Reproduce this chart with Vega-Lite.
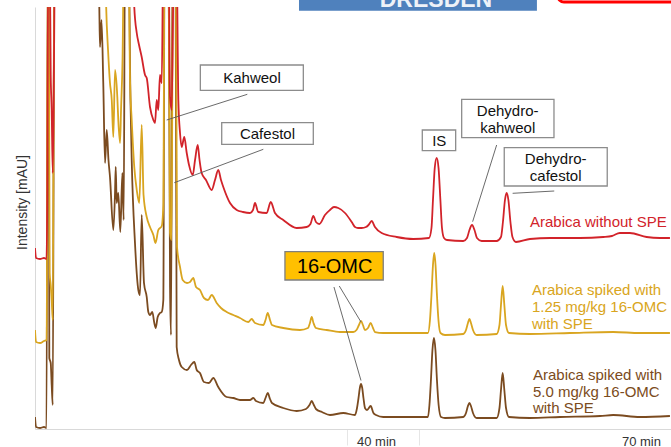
{
  "$schema": "https://vega.github.io/schema/vega-lite/v6.json",
  "width": 636,
  "height": 422,
  "autosize": {"type": "none"},
  "padding": {"left": 35, "top": 7, "right": 0, "bottom": 18},
  "background": "white",
  "config": {"view": {"stroke": null}, "font": "Liberation Sans"},
  "datasets": {
    "traces": [
      {"s":"5.0 mg/kg","t":1.39,"v":12},{"s":"5.0 mg/kg","t":1.51,"v":2},{"s":"5.0 mg/kg","t":1.96,"v":1},{"s":"5.0 mg/kg","t":2.41,"v":2},{"s":"5.0 mg/kg","t":2.69,"v":1},{"s":"5.0 mg/kg","t":2.84,"v":480},{"s":"5.0 mg/kg","t":2.93,"v":480},{"s":"5.0 mg/kg","t":3.01,"v":71},{"s":"5.0 mg/kg","t":3.17,"v":66},{"s":"5.0 mg/kg","t":3.28,"v":44},{"s":"5.0 mg/kg","t":3.40,"v":24},{"s":"5.0 mg/kg","t":3.58,"v":480},
      {"s":"5.0 mg/kg","t":8.52,"v":480},{"s":"5.0 mg/kg","t":8.67,"v":422},{"s":"5.0 mg/kg","t":8.75,"v":382},{"s":"5.0 mg/kg","t":8.92,"v":409},{"s":"5.0 mg/kg","t":9.12,"v":346},{"s":"5.0 mg/kg","t":9.32,"v":266},{"s":"5.0 mg/kg","t":9.51,"v":299},{"s":"5.0 mg/kg","t":9.71,"v":269},{"s":"5.0 mg/kg","t":9.88,"v":252},{"s":"5.0 mg/kg","t":10.26,"v":199},{"s":"5.0 mg/kg","t":10.45,"v":236},{"s":"5.0 mg/kg","t":10.53,"v":262},{"s":"5.0 mg/kg","t":10.64,"v":226},{"s":"5.0 mg/kg","t":10.82,"v":236},{"s":"5.0 mg/kg","t":11.05,"v":197},{"s":"5.0 mg/kg","t":11.28,"v":256},{"s":"5.0 mg/kg","t":11.43,"v":209},{"s":"5.0 mg/kg","t":11.58,"v":480},
      {"s":"5.0 mg/kg","t":11.98,"v":480},{"s":"5.0 mg/kg","t":12.20,"v":329},{"s":"5.0 mg/kg","t":12.34,"v":269},{"s":"5.0 mg/kg","t":12.71,"v":186},{"s":"5.0 mg/kg","t":13.09,"v":139},{"s":"5.0 mg/kg","t":13.28,"v":134},{"s":"5.0 mg/kg","t":13.47,"v":214},{"s":"5.0 mg/kg","t":13.73,"v":146},{"s":"5.0 mg/kg","t":14.04,"v":132},{"s":"5.0 mg/kg","t":14.22,"v":117},{"s":"5.0 mg/kg","t":14.41,"v":114},{"s":"5.0 mg/kg","t":14.67,"v":117},{"s":"5.0 mg/kg","t":14.90,"v":106},{"s":"5.0 mg/kg","t":15.06,"v":101},{"s":"5.0 mg/kg","t":15.28,"v":112},{"s":"5.0 mg/kg","t":15.54,"v":116},{"s":"5.0 mg/kg","t":15.74,"v":117},{"s":"5.0 mg/kg","t":15.92,"v":129},{"s":"5.0 mg/kg","t":16.06,"v":480},
      {"s":"5.0 mg/kg","t":16.51,"v":480},{"s":"5.0 mg/kg","t":16.68,"v":142},{"s":"5.0 mg/kg","t":16.79,"v":94},{"s":"5.0 mg/kg","t":16.96,"v":480},{"s":"5.0 mg/kg","t":17.30,"v":480},{"s":"5.0 mg/kg","t":17.43,"v":82},{"s":"5.0 mg/kg","t":17.69,"v":69},{"s":"5.0 mg/kg","t":18.00,"v":62},{"s":"5.0 mg/kg","t":18.60,"v":59},{"s":"5.0 mg/kg","t":19.05,"v":64},{"s":"5.0 mg/kg","t":19.43,"v":67},{"s":"5.0 mg/kg","t":19.70,"v":59},{"s":"5.0 mg/kg","t":20.07,"v":56},{"s":"5.0 mg/kg","t":20.52,"v":47},{"s":"5.0 mg/kg","t":21.09,"v":46},{"s":"5.0 mg/kg","t":21.58,"v":51},{"s":"5.0 mg/kg","t":22.14,"v":42},{"s":"5.0 mg/kg","t":23.09,"v":32},{"s":"5.0 mg/kg","t":23.84,"v":31},{"s":"5.0 mg/kg","t":24.60,"v":29},{"s":"5.0 mg/kg","t":25.73,"v":29},{"s":"5.0 mg/kg","t":26.11,"v":31},{"s":"5.0 mg/kg","t":26.41,"v":28},{"s":"5.0 mg/kg","t":27.24,"v":26},{"s":"5.0 mg/kg","t":27.49,"v":31},{"s":"5.0 mg/kg","t":27.74,"v":36},{"s":"5.0 mg/kg","t":28.00,"v":30},{"s":"5.0 mg/kg","t":28.22,"v":26},{"s":"5.0 mg/kg","t":29.50,"v":21},{"s":"5.0 mg/kg","t":31.02,"v":18},{"s":"5.0 mg/kg","t":32.07,"v":20},{"s":"5.0 mg/kg","t":32.47,"v":24},{"s":"5.0 mg/kg","t":32.72,"v":28},{"s":"5.0 mg/kg","t":32.96,"v":24},{"s":"5.0 mg/kg","t":33.20,"v":20},{"s":"5.0 mg/kg","t":33.88,"v":17},{"s":"5.0 mg/kg","t":34.79,"v":14},{"s":"5.0 mg/kg","t":36.30,"v":16},{"s":"5.0 mg/kg","t":37.62,"v":14},{"s":"5.0 mg/kg","t":37.85,"v":21},{"s":"5.0 mg/kg","t":38.02,"v":31},{"s":"5.0 mg/kg","t":38.19,"v":42},{"s":"5.0 mg/kg","t":38.30,"v":45},{"s":"5.0 mg/kg","t":38.44,"v":41},{"s":"5.0 mg/kg","t":38.58,"v":31},{"s":"5.0 mg/kg","t":38.75,"v":21},{"s":"5.0 mg/kg","t":38.98,"v":19},{"s":"5.0 mg/kg","t":39.40,"v":23},{"s":"5.0 mg/kg","t":39.71,"v":16},{"s":"5.0 mg/kg","t":40.00,"v":14},{"s":"5.0 mg/kg","t":40.82,"v":12},{"s":"5.0 mg/kg","t":44.22,"v":12},{"s":"5.0 mg/kg","t":45.88,"v":12},{"s":"5.0 mg/kg","t":46.05,"v":24},{"s":"5.0 mg/kg","t":46.22,"v":49},{"s":"5.0 mg/kg","t":46.39,"v":79},{"s":"5.0 mg/kg","t":46.56,"v":91},{"s":"5.0 mg/kg","t":46.73,"v":79},{"s":"5.0 mg/kg","t":46.90,"v":49},{"s":"5.0 mg/kg","t":47.09,"v":24},{"s":"5.0 mg/kg","t":47.36,"v":12},{"s":"5.0 mg/kg","t":47.81,"v":11},{"s":"5.0 mg/kg","t":49.88,"v":12},{"s":"5.0 mg/kg","t":50.19,"v":16},{"s":"5.0 mg/kg","t":50.41,"v":23},{"s":"5.0 mg/kg","t":50.58,"v":26},{"s":"5.0 mg/kg","t":50.75,"v":23},{"s":"5.0 mg/kg","t":50.98,"v":16},{"s":"5.0 mg/kg","t":51.40,"v":11},{"s":"5.0 mg/kg","t":53.66,"v":11},{"s":"5.0 mg/kg","t":53.98,"v":21},{"s":"5.0 mg/kg","t":54.15,"v":39},{"s":"5.0 mg/kg","t":54.34,"v":56},{"s":"5.0 mg/kg","t":54.53,"v":39},{"s":"5.0 mg/kg","t":54.72,"v":21},{"s":"5.0 mg/kg","t":55.05,"v":12},{"s":"5.0 mg/kg","t":57.43,"v":11},{"s":"5.0 mg/kg","t":60.83,"v":12},{"s":"5.0 mg/kg","t":65.36,"v":13},{"s":"5.0 mg/kg","t":66.86,"v":14},{"s":"5.0 mg/kg","t":69.88,"v":12},{"s":"5.0 mg/kg","t":73.28,"v":13},

      {"s":"1.25 mg/kg","t":1.39,"v":99},{"s":"1.25 mg/kg","t":1.51,"v":87},{"s":"1.25 mg/kg","t":1.96,"v":86},{"s":"1.25 mg/kg","t":2.41,"v":88},{"s":"1.25 mg/kg","t":2.71,"v":89},{"s":"1.25 mg/kg","t":2.84,"v":480},{"s":"1.25 mg/kg","t":2.94,"v":480},{"s":"1.25 mg/kg","t":3.05,"v":156},{"s":"1.25 mg/kg","t":3.17,"v":144},{"s":"1.25 mg/kg","t":3.28,"v":129},{"s":"1.25 mg/kg","t":3.40,"v":109},{"s":"1.25 mg/kg","t":3.58,"v":480},
      {"s":"1.25 mg/kg","t":9.32,"v":480},{"s":"1.25 mg/kg","t":9.45,"v":422},{"s":"1.25 mg/kg","t":9.66,"v":379},{"s":"1.25 mg/kg","t":9.88,"v":346},{"s":"1.25 mg/kg","t":10.08,"v":329},{"s":"1.25 mg/kg","t":10.26,"v":292},{"s":"1.25 mg/kg","t":10.45,"v":359},{"s":"1.25 mg/kg","t":10.71,"v":332},{"s":"1.25 mg/kg","t":10.82,"v":309},{"s":"1.25 mg/kg","t":11.02,"v":286},{"s":"1.25 mg/kg","t":11.13,"v":319},{"s":"1.25 mg/kg","t":11.30,"v":369},{"s":"1.25 mg/kg","t":11.47,"v":480},
      {"s":"1.25 mg/kg","t":11.98,"v":480},{"s":"1.25 mg/kg","t":12.15,"v":349},{"s":"1.25 mg/kg","t":12.34,"v":309},{"s":"1.25 mg/kg","t":12.63,"v":262},{"s":"1.25 mg/kg","t":12.91,"v":239},{"s":"1.25 mg/kg","t":13.20,"v":226},{"s":"1.25 mg/kg","t":13.47,"v":304},{"s":"1.25 mg/kg","t":13.68,"v":234},{"s":"1.25 mg/kg","t":14.04,"v":212},{"s":"1.25 mg/kg","t":14.41,"v":202},{"s":"1.25 mg/kg","t":14.79,"v":194},{"s":"1.25 mg/kg","t":15.03,"v":186},{"s":"1.25 mg/kg","t":15.35,"v":199},{"s":"1.25 mg/kg","t":15.74,"v":203},{"s":"1.25 mg/kg","t":15.92,"v":224},{"s":"1.25 mg/kg","t":16.06,"v":480},
      {"s":"1.25 mg/kg","t":16.51,"v":480},{"s":"1.25 mg/kg","t":16.68,"v":196},{"s":"1.25 mg/kg","t":16.85,"v":189},{"s":"1.25 mg/kg","t":17.02,"v":480},{"s":"1.25 mg/kg","t":17.33,"v":480},{"s":"1.25 mg/kg","t":17.47,"v":182},{"s":"1.25 mg/kg","t":17.81,"v":162},{"s":"1.25 mg/kg","t":18.11,"v":149},{"s":"1.25 mg/kg","t":18.60,"v":146},{"s":"1.25 mg/kg","t":18.94,"v":147},{"s":"1.25 mg/kg","t":19.31,"v":151},{"s":"1.25 mg/kg","t":19.62,"v":142},{"s":"1.25 mg/kg","t":20.07,"v":139},{"s":"1.25 mg/kg","t":20.52,"v":131},{"s":"1.25 mg/kg","t":20.98,"v":129},{"s":"1.25 mg/kg","t":21.40,"v":134},{"s":"1.25 mg/kg","t":21.96,"v":126},{"s":"1.25 mg/kg","t":22.45,"v":121},{"s":"1.25 mg/kg","t":23.09,"v":117},{"s":"1.25 mg/kg","t":23.84,"v":114},{"s":"1.25 mg/kg","t":24.60,"v":111},{"s":"1.25 mg/kg","t":25.54,"v":107},{"s":"1.25 mg/kg","t":25.92,"v":110},{"s":"1.25 mg/kg","t":26.30,"v":106},{"s":"1.25 mg/kg","t":27.24,"v":104},{"s":"1.25 mg/kg","t":27.49,"v":109},{"s":"1.25 mg/kg","t":27.74,"v":116},{"s":"1.25 mg/kg","t":28.00,"v":109},{"s":"1.25 mg/kg","t":28.22,"v":104},{"s":"1.25 mg/kg","t":29.50,"v":101},{"s":"1.25 mg/kg","t":31.39,"v":99},{"s":"1.25 mg/kg","t":32.30,"v":101},{"s":"1.25 mg/kg","t":32.52,"v":106},{"s":"1.25 mg/kg","t":32.72,"v":112},{"s":"1.25 mg/kg","t":32.92,"v":106},{"s":"1.25 mg/kg","t":33.20,"v":101},{"s":"1.25 mg/kg","t":34.42,"v":99},{"s":"1.25 mg/kg","t":35.92,"v":97},{"s":"1.25 mg/kg","t":37.43,"v":97},{"s":"1.25 mg/kg","t":37.79,"v":99},{"s":"1.25 mg/kg","t":38.07,"v":104},{"s":"1.25 mg/kg","t":38.30,"v":108},{"s":"1.25 mg/kg","t":38.52,"v":104},{"s":"1.25 mg/kg","t":38.75,"v":99},{"s":"1.25 mg/kg","t":39.09,"v":101},{"s":"1.25 mg/kg","t":39.40,"v":106},{"s":"1.25 mg/kg","t":39.66,"v":101},{"s":"1.25 mg/kg","t":39.88,"v":97},{"s":"1.25 mg/kg","t":40.82,"v":96},{"s":"1.25 mg/kg","t":44.22,"v":96},{"s":"1.25 mg/kg","t":45.88,"v":96},{"s":"1.25 mg/kg","t":46.11,"v":109},{"s":"1.25 mg/kg","t":46.28,"v":134},{"s":"1.25 mg/kg","t":46.45,"v":164},{"s":"1.25 mg/kg","t":46.59,"v":176},{"s":"1.25 mg/kg","t":46.74,"v":164},{"s":"1.25 mg/kg","t":46.90,"v":134},{"s":"1.25 mg/kg","t":47.07,"v":109},{"s":"1.25 mg/kg","t":47.30,"v":96},{"s":"1.25 mg/kg","t":47.81,"v":94},{"s":"1.25 mg/kg","t":49.88,"v":95},{"s":"1.25 mg/kg","t":50.19,"v":99},{"s":"1.25 mg/kg","t":50.41,"v":106},{"s":"1.25 mg/kg","t":50.58,"v":110},{"s":"1.25 mg/kg","t":50.75,"v":106},{"s":"1.25 mg/kg","t":50.98,"v":99},{"s":"1.25 mg/kg","t":51.40,"v":94},{"s":"1.25 mg/kg","t":53.66,"v":95},{"s":"1.25 mg/kg","t":53.98,"v":104},{"s":"1.25 mg/kg","t":54.15,"v":124},{"s":"1.25 mg/kg","t":54.34,"v":143},{"s":"1.25 mg/kg","t":54.53,"v":124},{"s":"1.25 mg/kg","t":54.72,"v":104},{"s":"1.25 mg/kg","t":55.05,"v":96},{"s":"1.25 mg/kg","t":57.43,"v":95},{"s":"1.25 mg/kg","t":61.96,"v":96},{"s":"1.25 mg/kg","t":66.86,"v":97},{"s":"1.25 mg/kg","t":69.88,"v":96},{"s":"1.25 mg/kg","t":73.28,"v":96},

      {"s":"without SPE","t":1.39,"v":181},{"s":"without SPE","t":1.51,"v":171},{"s":"without SPE","t":1.96,"v":170},{"s":"without SPE","t":2.41,"v":171},{"s":"without SPE","t":2.69,"v":170},{"s":"without SPE","t":2.78,"v":229},{"s":"without SPE","t":2.89,"v":480},{"s":"without SPE","t":3.05,"v":480},{"s":"without SPE","t":3.17,"v":354},{"s":"without SPE","t":3.28,"v":319},{"s":"without SPE","t":3.40,"v":256},{"s":"without SPE","t":3.54,"v":369},{"s":"without SPE","t":3.66,"v":480},
      {"s":"without SPE","t":12.49,"v":480},{"s":"without SPE","t":12.63,"v":422},{"s":"without SPE","t":12.91,"v":396},{"s":"without SPE","t":13.17,"v":384},{"s":"without SPE","t":13.47,"v":372},{"s":"without SPE","t":13.85,"v":354},{"s":"without SPE","t":14.04,"v":351},{"s":"without SPE","t":14.41,"v":322},{"s":"without SPE","t":14.79,"v":309},{"s":"without SPE","t":14.98,"v":306},{"s":"without SPE","t":15.17,"v":329},{"s":"without SPE","t":15.35,"v":319},{"s":"without SPE","t":15.54,"v":354},{"s":"without SPE","t":15.74,"v":346},{"s":"without SPE","t":15.92,"v":480},
      {"s":"without SPE","t":16.51,"v":480},{"s":"without SPE","t":16.68,"v":332},{"s":"without SPE","t":16.87,"v":319},{"s":"without SPE","t":17.13,"v":480},{"s":"without SPE","t":17.41,"v":480},{"s":"without SPE","t":17.62,"v":329},{"s":"without SPE","t":17.81,"v":296},{"s":"without SPE","t":18.00,"v":282},{"s":"without SPE","t":18.29,"v":292},{"s":"without SPE","t":18.57,"v":276},{"s":"without SPE","t":18.83,"v":264},{"s":"without SPE","t":19.25,"v":254},{"s":"without SPE","t":19.51,"v":269},{"s":"without SPE","t":19.81,"v":284},{"s":"without SPE","t":20.02,"v":269},{"s":"without SPE","t":20.26,"v":256},{"s":"without SPE","t":20.75,"v":249},{"s":"without SPE","t":21.40,"v":239},{"s":"without SPE","t":21.77,"v":249},{"s":"without SPE","t":22.14,"v":259},{"s":"without SPE","t":22.45,"v":249},{"s":"without SPE","t":22.71,"v":242},{"s":"without SPE","t":23.47,"v":226},{"s":"without SPE","t":24.23,"v":219},{"s":"without SPE","t":24.94,"v":217},{"s":"without SPE","t":25.73,"v":216},{"s":"without SPE","t":26.07,"v":219},{"s":"without SPE","t":26.30,"v":226},{"s":"without SPE","t":26.67,"v":217},{"s":"without SPE","t":27.62,"v":216},{"s":"without SPE","t":28.08,"v":227},{"s":"without SPE","t":28.56,"v":216},{"s":"without SPE","t":29.50,"v":209},{"s":"without SPE","t":31.02,"v":201},{"s":"without SPE","t":32.15,"v":202},{"s":"without SPE","t":32.58,"v":205},{"s":"without SPE","t":32.90,"v":213},{"s":"without SPE","t":33.20,"v":207},{"s":"without SPE","t":33.58,"v":205},{"s":"without SPE","t":34.22,"v":214},{"s":"without SPE","t":34.79,"v":219},{"s":"without SPE","t":35.24,"v":222},{"s":"without SPE","t":35.73,"v":221},{"s":"without SPE","t":36.49,"v":216},{"s":"without SPE","t":37.25,"v":207},{"s":"without SPE","t":37.62,"v":202},{"s":"without SPE","t":37.96,"v":201},{"s":"without SPE","t":38.38,"v":201},{"s":"without SPE","t":38.87,"v":202},{"s":"without SPE","t":39.15,"v":204},{"s":"without SPE","t":39.51,"v":208},{"s":"without SPE","t":39.88,"v":202},{"s":"without SPE","t":40.64,"v":196},{"s":"without SPE","t":42.34,"v":192},{"s":"without SPE","t":44.22,"v":190},{"s":"without SPE","t":46.00,"v":191},{"s":"without SPE","t":46.28,"v":201},{"s":"without SPE","t":46.45,"v":229},{"s":"without SPE","t":46.65,"v":261},{"s":"without SPE","t":46.87,"v":271},{"s":"without SPE","t":47.08,"v":261},{"s":"without SPE","t":47.29,"v":229},{"s":"without SPE","t":47.47,"v":201},{"s":"without SPE","t":47.70,"v":191},{"s":"without SPE","t":48.04,"v":189},{"s":"without SPE","t":49.88,"v":188},{"s":"without SPE","t":50.30,"v":191},{"s":"without SPE","t":50.58,"v":199},{"s":"without SPE","t":50.87,"v":204},{"s":"without SPE","t":51.15,"v":199},{"s":"without SPE","t":51.43,"v":191},{"s":"without SPE","t":51.96,"v":188},{"s":"without SPE","t":53.66,"v":188},{"s":"without SPE","t":54.15,"v":192},{"s":"without SPE","t":54.37,"v":207},{"s":"without SPE","t":54.60,"v":229},{"s":"without SPE","t":54.79,"v":236},{"s":"without SPE","t":54.99,"v":229},{"s":"without SPE","t":55.22,"v":207},{"s":"without SPE","t":55.45,"v":192},{"s":"without SPE","t":55.85,"v":187},{"s":"without SPE","t":57.43,"v":190},{"s":"without SPE","t":59.70,"v":191},{"s":"without SPE","t":63.09,"v":191},{"s":"without SPE","t":65.73,"v":192},{"s":"without SPE","t":66.71,"v":193},{"s":"without SPE","t":67.61,"v":196},{"s":"without SPE","t":68.75,"v":196},{"s":"without SPE","t":70.64,"v":192},{"s":"without SPE","t":72.15,"v":191},{"s":"without SPE","t":73.28,"v":191}
    ],
    "seriesLabels": [
      {"s":"without SPE","t":57.43,"v":202.3,"line":"Arabica without SPE"},
      {"s":"1.25 mg/kg","t":57.66,"v":134,"line":"Arabica spiked with"},
      {"s":"1.25 mg/kg","t":57.66,"v":117,"line":"1.25 mg/kg 16-OMC"},
      {"s":"1.25 mg/kg","t":57.66,"v":100,"line":"with SPE"},
      {"s":"5.0 mg/kg","t":57.77,"v":49,"line":"Arabica spiked with"},
      {"s":"5.0 mg/kg","t":57.77,"v":32,"line":"5.0 mg/kg 16-OMC"},
      {"s":"5.0 mg/kg","t":57.77,"v":16,"line":"with SPE"}
    ],
    "boxes": [
      {"name":"Kahweol","t":20.11,"t2":31.77,"v":338.7,"v2":364},
      {"name":"Cafestol","t":22.53,"t2":32.90,"v":284.7,"v2":306.3},
      {"name":"IS","t":45.24,"t2":49.02,"v":278.3,"v2":299},
      {"name":"Dehydrokahweol","t":49.70,"t2":60.15,"v":291.3,"v2":329.7},
      {"name":"Dehydrocafestol","t":54.52,"t2":66.18,"v":243,"v2":281.3}
    ],
    "boxText": [
      {"label":"Kahweol","t":25.96,"v":345.7},
      {"label":"Cafestol","t":27.71,"v":289.7},
      {"label":"IS","t":47.16,"v":283},
      {"label":"Dehydro-","t":54.91,"v":313},
      {"label":"kahweol","t":54.91,"v":296.3},
      {"label":"Dehydro-","t":60.34,"v":264.7},
      {"label":"cafestol","t":60.34,"v":248.3}
    ],
    "leaders": [
      {"name":"Kahweol","t":25.43,"v":334.7,"t2":16.30,"v2":309},
      {"name":"Cafestol","t":27.24,"v":279.7,"t2":17.16,"v2":246.3},
      {"name":"Dehydrokahweol","t":53.66,"v":284,"t2":50.94,"v2":207.3},
      {"name":"Dehydrocafestol","t":55.47,"v":235.7,"t2":60.18,"v2":238},
      {"name":"16-OMC 1.25","t":35.84,"v":143,"t2":38.30,"v2":107},
      {"name":"16-OMC 5.0","t":35.24,"v":142,"t2":38.30,"v2":48.5}
    ]
  },
  "layer": [
    {
      "data": {"name": "traces"},
      "mark": {"type": "line", "clip": true, "strokeWidth": 1.8, "interpolate": "monotone"},
      "encoding": {
        "x": {"field": "t", "type": "quantitative", "scale": {"domain": [1.39, 73.4], "nice": false, "zero": false},
          "axis": {"values": [36.71, 40, 44.87, 70], "title": null, "grid": false,
            "labelExpr": "datum.value == 40 || datum.value == 70 ? datum.value + ' min' : ''",
            "tickColor": {"condition": {"test": "datum.value == 40 || datum.value == 70", "value": "transparent"}, "value": "#e6e6e6"},
            "tickSize": 16, "labelPadding": -10, "labelFlush": false, "labelOverlap": false,
            "domainColor": "#d9d9d9", "labelFontSize": 13, "labelColor": "#333333", "labelFont": "Liberation Sans"}},
        "y": {"field": "v", "type": "quantitative", "scale": {"domain": [0, 422], "nice": false, "zero": false},
          "axis": {"ticks": false, "labels": false, "grid": false, "domainColor": "#d9d9d9",
            "title": "Intensity [mAU]", "titleFontSize": 14, "titleFont": "Liberation Sans", "titleFontWeight": "normal",
            "titleColor": "#333333", "titleX": -13, "titleY": 195, "titleAngle": -90, "titleBaseline": "middle", "titleAlign": "center"}},
        "color": {"field": "s", "type": "nominal", "legend": null,
          "scale": {"domain": ["5.0 mg/kg", "1.25 mg/kg", "without SPE"], "range": ["#7b4b20", "#d9a520", "#d2232a"]}},
        "order": {"field": "t", "type": "quantitative"}
      }
    },
    {
      "data": {"name": "seriesLabels"},
      "mark": {"type": "text", "align": "left", "baseline": "alphabetic", "fontSize": 15, "font": "Liberation Sans"},
      "encoding": {
        "x": {"field": "t", "type": "quantitative"},
        "y": {"field": "v", "type": "quantitative"},
        "text": {"field": "line"},
        "color": {"field": "s", "type": "nominal", "legend": null}
      }
    },
    {
      "data": {"name": "leaders"},
      "mark": {"type": "rule", "color": "#595959", "strokeWidth": 0.9},
      "encoding": {
        "x": {"field": "t", "type": "quantitative"},
        "y": {"field": "v", "type": "quantitative"},
        "x2": {"field": "t2"},
        "y2": {"field": "v2"}
      }
    },
    {
      "data": {"name": "boxes"},
      "mark": {"type": "rect", "fill": "white", "stroke": "#8c8c8c", "strokeWidth": 1.3},
      "encoding": {
        "x": {"field": "t", "type": "quantitative"},
        "x2": {"field": "t2"},
        "y": {"field": "v", "type": "quantitative"},
        "y2": {"field": "v2"}
      }
    },
    {
      "data": {"values": [{"name": "16-OMC", "t": 29.69, "t2": 40.82, "v": 149, "v2": 177.3}]},
      "mark": {"type": "rect", "fill": "#ffc000", "stroke": "#7f7f7f", "strokeWidth": 1.3},
      "encoding": {
        "x": {"field": "t", "type": "quantitative"},
        "x2": {"field": "t2"},
        "y": {"field": "v", "type": "quantitative"},
        "y2": {"field": "v2"}
      }
    },
    {
      "data": {"name": "boxText"},
      "mark": {"type": "text", "align": "center", "baseline": "alphabetic", "fontSize": 15, "font": "Liberation Sans", "color": "#111111"},
      "encoding": {
        "x": {"field": "t", "type": "quantitative"},
        "y": {"field": "v", "type": "quantitative"},
        "text": {"field": "label"}
      }
    },
    {
      "data": {"values": [{"label": "16-OMC", "t": 35.32, "v": 156.3}]},
      "mark": {"type": "text", "align": "center", "baseline": "alphabetic", "fontSize": 20, "font": "Liberation Sans", "color": "#000000"},
      "encoding": {
        "x": {"field": "t", "type": "quantitative"},
        "y": {"field": "v", "type": "quantitative"},
        "text": {"field": "label"}
      }
    },
    {
      "data": {"values": [{"name": "logo", "t": 31.28, "t2": 58.22, "v": 418.3, "v2": 450}]},
      "mark": {"type": "rect", "fill": "#4f81bd", "clip": false},
      "encoding": {
        "x": {"field": "t", "type": "quantitative"},
        "x2": {"field": "t2"},
        "y": {"field": "v", "type": "quantitative"},
        "y2": {"field": "v2"}
      }
    },
    {
      "data": {"values": [{"label": "DRESDEN", "t": 46.79, "v": 422}]},
      "mark": {"type": "text", "align": "center", "baseline": "alphabetic", "fontSize": 23, "fontWeight": "bold", "font": "Liberation Sans", "color": "#eef2f8", "clip": false},
      "encoding": {
        "x": {"field": "t", "type": "quantitative"},
        "y": {"field": "v", "type": "quantitative"},
        "text": {"field": "label"}
      }
    },
    {
      "data": {"values": [{"name": "frame", "t": 60.6, "t2": 75.5, "v": 427, "v2": 470}]},
      "mark": {"type": "rect", "fill": null, "stroke": "#ff0000", "strokeWidth": 3, "cornerRadius": 6, "clip": false},
      "encoding": {
        "x": {"field": "t", "type": "quantitative"},
        "x2": {"field": "t2"},
        "y": {"field": "v", "type": "quantitative"},
        "y2": {"field": "v2"}
      }
    }
  ]
}
